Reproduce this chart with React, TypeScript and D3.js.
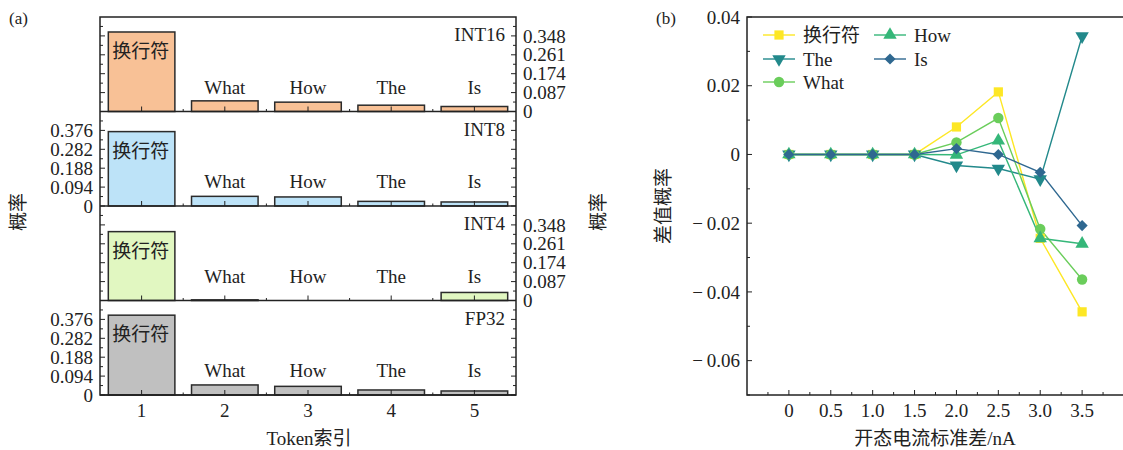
import React from 'react';
import * as d3 from 'd3';

// ---- data ----
const tokenIndex = [1, 2, 3, 4, 5];
const tokenNames = ['换行符', 'What', 'How', 'The', 'Is'];
const int16Probs = [0.366, 0.049, 0.043, 0.029, 0.023];
const int8Probs = [0.37, 0.048, 0.045, 0.023, 0.02];
const int4Probs = [0.317, 0.003, 0, 0, 0.037];
const fp32Probs = [0.397, 0.05, 0.043, 0.025, 0.02];
const probTicksA = [0, 0.094, 0.188, 0.282, 0.376];
const probTicksB = [0, 0.087, 0.174, 0.261, 0.348];

const sigmaNA = [0, 0.5, 1.0, 1.5, 2.0, 2.5, 3.0, 3.5];
const diffNewline = [0, 0, 0, 0, 0.008, 0.0182, -0.0244, -0.0458];
const diffThe = [0, 0, 0, 0, -0.0032, -0.0041, -0.0072, 0.0344];
const diffWhat = [0, 0, 0, 0, 0.0035, 0.0106, -0.0217, -0.0364];
const diffHow = [0, 0, 0, 0, -0.0001, 0.004, -0.0244, -0.026];
const diffIs = [0, 0, 0, 0, 0.0017, 0, -0.0052, -0.0207];
const diffTicks = [-0.06, -0.04, -0.02, 0, 0.02, 0.04];
const sigmaTicks = [0, 0.5, 1.0, 1.5, 2.0, 2.5, 3.0, 3.5];

const serif = '"Liberation Serif", "Noto Sans CJK SC", serif';
const cjk = '"Noto Sans CJK SC", sans-serif';
const ink = '#222';
const fs = 19;

const panels = [
  { name: 'INT16', values: int16Probs, ticks: probTicksB, side: 'right', fill: '#f8c196' },
  { name: 'INT8', values: int8Probs, ticks: probTicksA, side: 'left', fill: '#bde3f8' },
  { name: 'INT4', values: int4Probs, ticks: probTicksB, side: 'right', fill: '#e1f7c1' },
  { name: 'FP32', values: fp32Probs, ticks: probTicksA, side: 'left', fill: '#c0c0c0' },
];

const series = [
  { name: '换行符', values: diffNewline, color: '#fde725', shape: 'square' },
  { name: 'The', values: diffThe, color: '#22898b', shape: 'down' },
  { name: 'What', values: diffWhat, color: '#6acd5b', shape: 'circle' },
  { name: 'How', values: diffHow, color: '#35b779', shape: 'up' },
  { name: 'Is', values: diffIs, color: '#2f6890', shape: 'diamond' },
];

const Marker = ({ shape, x, y, color }) => {
  if (shape === 'circle') return <circle cx={x} cy={y} r={5.2} fill={color} />;
  if (shape === 'square') return <rect x={x - 4.6} y={y - 4.6} width={9.2} height={9.2} fill={color} />;
  const type = shape === 'diamond' ? d3.symbolSquare : d3.symbolTriangle;
  const size = shape === 'diamond' ? 62 : 78;
  const rot = shape === 'diamond' ? 45 : shape === 'down' ? 180 : 0;
  const path = d3.symbol().type(type).size(size)();
  return <path d={path} transform={`translate(${x},${y}) rotate(${rot})`} fill={color} />;
};

const BarPanels = () => {
  const left = 100;
  const right = 516;
  const top = 17;
  const ph = 94.5;
  const x = d3.scaleLinear().domain([0.5, 5.5]).range([left, right]);
  const bw = x(1.4) - x(0.6);
  const fmt = (d) => (d === 0 ? '0' : d.toFixed(3));

  return (
    <g>
      {panels.map((p, i) => {
        const y0 = top + i * ph;
        const y1 = y0 + ph;
        const step = p.ticks[1];
        const y = d3.scaleLinear().domain([0, step * 5]).range([y1, y0]);
        const minors = p.ticks.map((t) => t + step / 2);
        return (
          <g key={p.name}>
            {p.values.map((v, j) => (
              <rect
                key={j}
                x={x(tokenIndex[j]) - bw / 2}
                y={y(v)}
                width={bw}
                height={y1 - y(v)}
                fill={p.fill}
                stroke="#2b2b2b"
                strokeWidth={1.5}
              />
            ))}
            {/* x ticks */}
            {tokenIndex.map((t) => (
              <line key={'xt' + t} x1={x(t)} x2={x(t)} y1={y1} y2={y1 - 5} stroke={ink} strokeWidth={1} />
            ))}
            {tokenIndex.slice(0, 4).map((t) => (
              <line key={'xm' + t} x1={x(t + 0.5)} x2={x(t + 0.5)} y1={y1} y2={y1 - 2.5} stroke={ink} strokeWidth={1} />
            ))}
            {/* y ticks on both sides */}
            {[left, right].map((ex) => {
              const dir = ex === left ? 1 : -1;
              return (
                <g key={'yt' + ex}>
                  {p.ticks.map((t) => (
                    <line key={t} x1={ex} x2={ex + dir * 5} y1={y(t)} y2={y(t)} stroke={ink} strokeWidth={1} />
                  ))}
                  {minors.map((t) => (
                    <line key={'m' + t} x1={ex} x2={ex + dir * 3} y1={y(t)} y2={y(t)} stroke={ink} strokeWidth={1} />
                  ))}
                </g>
              );
            })}
            {p.ticks.map((t) => (
              <text
                key={'yl' + t}
                x={p.side === 'left' ? left - 7 : right + 7}
                y={y(t)}
                dy="0.35em"
                textAnchor={p.side === 'left' ? 'end' : 'start'}
                fontFamily={serif}
                fontSize={fs}
                fill={ink}
              >
                {fmt(t)}
              </text>
            ))}
            {/* token labels */}
            <text
              x={x(1) - bw / 2 + 4}
              y={y(p.values[0]) + 26}
              fontFamily={cjk}
              fontSize={fs}
              fill={ink}
            >
              {tokenNames[0]}
            </text>
            {tokenNames.slice(1).map((n, j) => (
              <text
                key={n}
                x={x(tokenIndex[j + 1])}
                y={y1 - 18}
                textAnchor="middle"
                fontFamily={serif}
                fontSize={fs}
                fill={ink}
              >
                {n}
              </text>
            ))}
            <text x={right - 11} y={y0 + 24} textAnchor="end" fontFamily={serif} fontSize={fs} fill={ink}>
              {p.name}
            </text>
            <line x1={left} x2={right} y1={y1} y2={y1} stroke={ink} strokeWidth={1.5} />
          </g>
        );
      })}
      <rect x={left} y={top} width={right - left} height={ph * 4} fill="none" stroke={ink} strokeWidth={1.5} />
      {tokenIndex.map((t) => (
        <text key={t} x={x(t)} y={417} textAnchor="middle" fontFamily={serif} fontSize={fs} fill={ink}>
          {t}
        </text>
      ))}
      <text x={309} y={445} textAnchor="middle" fontFamily={serif} fontSize={fs} fill={ink}>
        Token索引
      </text>
      <text transform="translate(25,212) rotate(-90)" textAnchor="middle" fontFamily={cjk} fontSize={fs} fill={ink}>
        概率
      </text>
      <text transform="translate(605,212) rotate(-90)" textAnchor="middle" fontFamily={cjk} fontSize={fs} fill={ink}>
        概率
      </text>
      <text x={9} y={24} fontFamily={serif} fontSize={17} fill={ink}>
        (a)
      </text>
    </g>
  );
};

const LinePanel = () => {
  const x = d3.scaleLinear().domain([-0.5, 4.0]).range([747, 1124]);
  const y = d3.scaleLinear().domain([-0.07, 0.04]).range([395, 17]);
  const line = d3
    .line<number>()
    .x((_, i) => x(sigmaNA[i]))
    .y((d) => y(d));
  const yMinor = d3.range(-0.07, 0.045, 0.01).filter((v) => Math.round(v * 100) % 2 !== 0);
  const xMinor = d3.range(-0.25, 4.0, 0.5);
  const yFmt = (d) => (Math.abs(d) < 1e-9 ? '0' : (d < 0 ? '−\u2009' : '') + Math.abs(d).toFixed(2));
  const xFmt = (d) => (d === 0 ? '0' : d.toFixed(1));
  const legendPos = [
    [763, 35],
    [763, 59],
    [763, 82],
    [874, 35],
    [874, 59],
  ];

  return (
    <g>
      {series.map((s) => (
        <path key={s.name} d={line(s.values)} fill="none" stroke={s.color} strokeWidth={1.4} />
      ))}
      {series.map((s) => (
        <g key={s.name + 'm'}>
          {s.values.map((v, i) => (
            <Marker key={i} shape={s.shape} x={x(sigmaNA[i])} y={y(v)} color={s.color} />
          ))}
        </g>
      ))}
      {/* frame */}
      <rect x={747} y={17} width={377} height={378} fill="none" stroke={ink} strokeWidth={1.5} />
      {diffTicks.map((t) => (
        <g key={t}>
          <line x1={747} x2={752} y1={y(t)} y2={y(t)} stroke={ink} strokeWidth={1} />
          <text x={740} y={y(t)} dy="0.35em" textAnchor="end" fontFamily={serif} fontSize={fs} fill={ink}>
            {yFmt(t)}
          </text>
        </g>
      ))}
      {yMinor.map((t) => (
        <line key={t} x1={747} x2={750} y1={y(t)} y2={y(t)} stroke={ink} strokeWidth={1} />
      ))}
      {sigmaTicks.map((t) => (
        <g key={t}>
          <line x1={x(t)} x2={x(t)} y1={395} y2={390} stroke={ink} strokeWidth={1} />
          <text x={x(t)} y={417} textAnchor="middle" fontFamily={serif} fontSize={fs} fill={ink}>
            {xFmt(t)}
          </text>
        </g>
      ))}
      {xMinor.map((t) => (
        <line key={t} x1={x(t)} x2={x(t)} y1={395} y2={392} stroke={ink} strokeWidth={1} />
      ))}
      {/* legend */}
      {series.map((s, i) => {
        const [lx, ly] = legendPos[i];
        return (
          <g key={s.name + 'l'}>
            <line x1={lx} x2={lx + 32} y1={ly} y2={ly} stroke={s.color} strokeWidth={1.4} />
            <Marker shape={s.shape} x={lx + 16} y={ly} color={s.color} />
            <text x={lx + 40} y={ly} dy="0.35em" fontFamily={serif} fontSize={fs} fill={ink}>
              {s.name}
            </text>
          </g>
        );
      })}
      <text transform="translate(670,206) rotate(-90)" textAnchor="middle" fontFamily={cjk} fontSize={fs} fill={ink}>
        差值概率
      </text>
      <text x={935} y={445} textAnchor="middle" fontFamily={serif} fontSize={fs} fill={ink}>
        开态电流标准差/nA
      </text>
      <text x={656} y={24} fontFamily={serif} fontSize={17} fill={ink}>
        (b)
      </text>
    </g>
  );
};

export default function App() {
  return (
    <svg width={1123} height={450} style={{ position: 'absolute', left: 0, top: 0, background: '#fff' }}>
      <BarPanels />
      <LinePanel />
    </svg>
  );
}
